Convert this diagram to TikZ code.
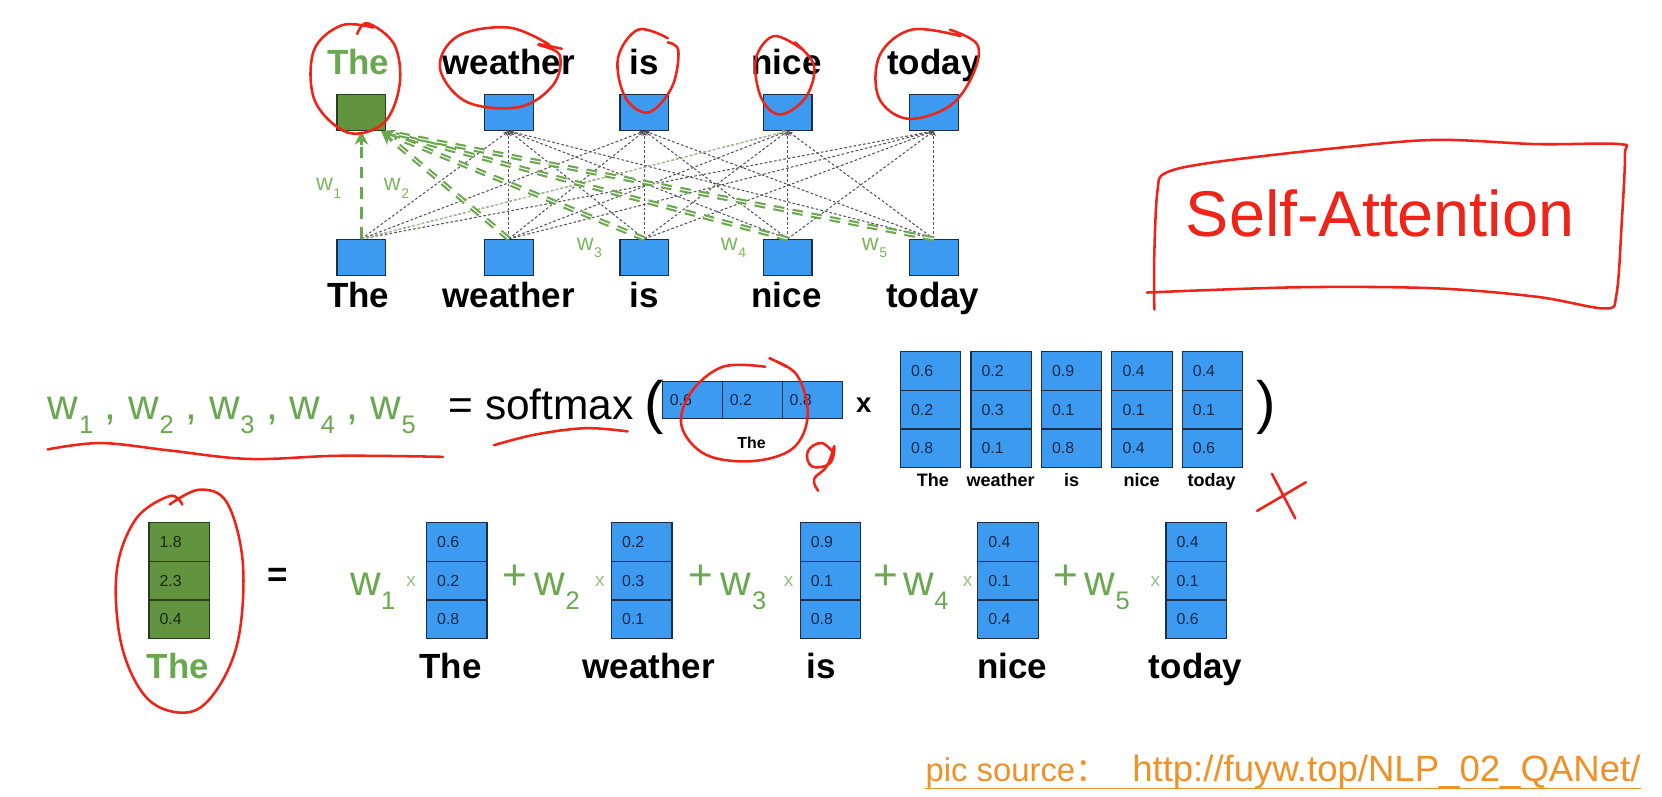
\documentclass[tikz,border=0pt]{standalone}
\usepackage{fontspec}
\setmainfont{Liberation Sans}
\newfontfamily\cjk{Noto Sans CJK SC}
\usetikzlibrary{arrows.meta,calc}
\definecolor{boxblue}{RGB}{60,155,240}
\definecolor{boxborder}{RGB}{30,45,70}
\definecolor{gboxfill}{RGB}{98,148,64}
\definecolor{gborder}{RGB}{40,60,30}
\definecolor{gtext}{RGB}{106,168,79}
\definecolor{wlight}{RGB}{125,182,98}
\definecolor{numtext}{RGB}{20,40,70}
\definecolor{gnum}{RGB}{25,40,20}
\definecolor{lgray}{RGB}{85,85,85}
\definecolor{lgreen}{RGB}{160,205,140}
\definecolor{timesc}{RGB}{150,190,135}
\definecolor{redc}{RGB}{240,35,25}
\definecolor{orangec}{RGB}{240,145,40}
\newcommand{\wsb}[1]{w\kern0.5pt\raisebox{-0.33em}{\scalebox{0.6}{#1}}}
\begin{document}
\begin{tikzpicture}[x=1pt,y=-1pt,
  tbox/.style={rectangle,draw=boxborder,fill=boxblue,line width=1.2pt,minimum width=46pt,minimum height=34pt,inner sep=0pt},
  gbox/.style={tbox,fill=gboxfill,draw=gborder},
  word/.style={font=\fontsize{33}{36}\selectfont\bfseries,inner sep=0pt,anchor=base},
  cell/.style={rectangle,draw=boxborder,fill=boxblue,line width=1.1pt,minimum width=57pt,minimum height=36.5pt,text width=37pt,inner xsep=10pt,inner ysep=0pt,align=left,font=\fontsize{15}{15}\selectfont,text=numtext},
  gcell/.style={cell,fill=gboxfill,draw=gborder,text=gnum},
  mlab/.style={font=\fontsize{17}{17}\selectfont\bfseries,inner sep=0pt,anchor=base},
  eqtext/.style={font=\fontsize{40}{44}\selectfont,inner sep=0pt,anchor=base west},
  wlab/.style={font=\fontsize{22}{22}\selectfont,text=wlight,inner sep=0pt,anchor=base west},
  times/.style={font=\fontsize{18}{18}\selectfont,text=timesc,inner sep=0pt},
  gline/.style={draw=lgray,line width=1pt,dash pattern=on 2.5pt off 2pt,-{Stealth[length=5pt,width=4pt]}},
  attn/.style={draw=gtext,line width=3.6pt,dash pattern=on 11pt off 8pt},
  attnd/.style={draw=gtext,line width=2pt,double=white,double distance=1pt,dash pattern=on 10pt off 8pt},
  attntip/.style={draw=gtext,line width=2pt,-{Stealth[length=13pt,width=13pt]}},
  redpen/.style={draw=redc,line width=2.4pt,line cap=round,line join=round},
]
\useasboundingbox (0,0) rectangle (1568,751);

% ---------- top graph ----------
\node[gbox] (t1) at (341,106) {};
\node[tbox] (t2) at (480,106) {};
\node[tbox] (t3) at (608,106) {};
\node[tbox] (t4) at (743,106) {};
\node[tbox] (t5) at (881,106) {};
\node[tbox] (b1) at (341,243) {};
\node[tbox] (b2) at (480,243) {};
\node[tbox] (b3) at (608,243) {};
\node[tbox] (b4) at (743,243) {};
\node[tbox] (b5) at (881,243) {};

\node[word,text=gtext] (tw1) at (338,70) {The};
\node[word] (tw2) at (480,70) {weather};
\node[word] (tw3) at (608,70) {is};
\node[word] (tw4) at (742,70) {nice};
\node[word] (tw5) at (881,70) {today};
\node[word] (bw1) at (338,290) {The};
\node[word] (bw2) at (480,290) {weather};
\node[word] (bw3) at (608,290) {is};
\node[word] (bw4) at (742,290) {nice};
\node[word] (bw5) at (880,290) {today};

\foreach \i in {2,...,5}
  \foreach \j in {1,...,5}
    \draw[gline] (b\j.north) -- (t\i.south);
\draw[gline,draw=lgreen] (b1.north) -- (t4.south);

\coordinate (tin) at ([xshift=-5pt]t1.south east);
\draw[attn] (b1.north) -- ($(t1.south)!12pt!(b1.north)$);
\draw[attntip] ($(t1.south)!13pt!(b1.north)$) -- (t1.south);
\foreach \j in {2,...,5}{
  \draw[attnd] (b\j.north) -- ($(tin)!14pt!(b\j.north)$);
}
\draw[attntip] ($(tin)!14pt!(b2.north)$) -- (tin);
\draw[attntip] ($(tin)!14pt!(b3.north)$) -- (tin);

\node[wlab] (w1l) at (298,180) {\wsb{1}};
\node[wlab] (w2l) at (362,180) {\wsb{2}};
\node[wlab] (w3l) at (544,236) {\wsb{3}};
\node[wlab] (w4l) at (680,236) {\wsb{4}};
\node[wlab] (w5l) at (813,236) {\wsb{5}};

% ---------- softmax row ----------
\node[eqtext,text=gtext] (ws) at (45,396) {\wsb{1} , \wsb{2} , \wsb{3} , \wsb{4} , \wsb{5}};
\node[eqtext] (sm) at (423,396) {= softmax};
\node[font=\fontsize{55}{55}\selectfont,inner sep=0pt] (lp) at (617,384) {(};
\node[cell,minimum height=35pt,inner xsep=7pt,text width=43pt] (r1) at (653.5,377.5) {0.6};
\node[cell,minimum height=35pt,inner xsep=7pt,text width=43pt] (r2) at (710,377.5) {0.2};
\node[cell,minimum height=35pt,inner xsep=7pt,text width=43pt] (r3) at (766.5,377.5) {0.8};
\node[mlab,font=\fontsize{15}{15}\selectfont\bfseries] (rl) at (709,423) {The};
\node[font=\fontsize{26}{26}\selectfont\bfseries,inner sep=0pt] (mx) at (815,382) {x};

\foreach \c/\x/\a/\b/\d/\lab/\lx in {1/878/0.6/0.2/0.8/The/880, 2/944.5/0.2/0.3/0.1/weather/944, 3/1011/0.9/0.1/0.8/is/1011, 4/1077.5/0.4/0.1/0.4/nice/1077, 5/1144/0.4/0.1/0.6/today/1143}{
  \node[cell] (m\c a) at (\x,350) {\a};
  \node[cell] (m\c b) at (\x,386.5) {\b};
  \node[cell] (m\c c) at (\x,423) {\d};
  \node[mlab] (m\c l) at (\lx,459) {\lab};
}
\node[font=\fontsize{55}{55}\selectfont,inner sep=0pt] (rp) at (1195,384) {)};

% ---------- weighted sum row ----------
\node[gcell] (ga) at (169,511.25) {1.8};
\node[gcell] (gb) at (169,547.75) {2.3};
\node[gcell] (gc) at (169,584.25) {0.4};
\node[word,text=gtext] (gl) at (168,640) {The};
\node[font=\fontsize{33}{33}\selectfont\bfseries,inner sep=0pt] (eq) at (262,545) {=};

\foreach \c/\x/\a/\b/\d/\lab/\lx in {1/431/0.6/0.2/0.8/The/425, 2/605.5/0.2/0.3/0.1/weather/612, 3/783.5/0.9/0.1/0.8/is/775, 4/951/0.4/0.1/0.4/nice/955, 5/1128.5/0.4/0.1/0.6/today/1128}{
  \node[cell] (v\c a) at (\x,511.25) {\a};
  \node[cell] (v\c b) at (\x,547.75) {\b};
  \node[cell] (v\c c) at (\x,584.25) {\d};
  \node[word] (v\c l) at (\lx,640) {\lab};
}

\node[eqtext,text=gtext] (c1w) at (330,562) {\wsb{1}};
\node[times] (c1x) at (388,549) {x};
\node[eqtext,text=gtext,anchor=center] (p2) at (486,545) {+};
\node[eqtext,text=gtext] (c2w) at (504,562) {\wsb{2}};
\node[times] (c2x) at (566,549) {x};
\node[eqtext,text=gtext,anchor=center] (p3) at (661,545) {+};
\node[eqtext,text=gtext] (c3w) at (680,562) {\wsb{3}};
\node[times] (c3x) at (744,549) {x};
\node[eqtext,text=gtext,anchor=center] (p4) at (836,545) {+};
\node[eqtext,text=gtext] (c4w) at (852,562) {\wsb{4}};
\node[times] (c4x) at (913,549) {x};
\node[eqtext,text=gtext,anchor=center] (p5) at (1006,545) {+};
\node[eqtext,text=gtext] (c5w) at (1023,562) {\wsb{5}};
\node[times] (c5x) at (1090,549) {x};

% ---------- Self-Attention ----------
\node[font=\fontsize{61}{61}\selectfont,text=redc,inner sep=0pt] (sa) at (1302,201) {Self-Attention};
\draw[redpen] plot[smooth,tension=0.55] coordinates {(1089,292) (1089,240) (1092,180) (1100,163) (1146,153) (1258,140) (1354,132) (1450,136) (1528,136) (1533,146) (1530,210) (1525,278) (1514,291) (1450,280) (1354,272) (1226,271) (1082,276)};

% ---------- source ----------
\node[font=\fontsize{31}{31}\selectfont,text=orangec,inner sep=0pt,anchor=base west] (src) at (873,737) {pic source{\cjk ：}};
\node[font=\fontsize{34.5}{34.5}\selectfont,text=orangec,inner sep=0pt,anchor=base west] (url) at (1068,737) {http://fuyw.top/NLP\_02\_QANet/};
\draw[orangec,line width=1.6pt] ([yshift=-7pt]src.base west) -- ([yshift=-7pt]url.base east);

% ---------- red annotations ----------
\draw[redpen] plot[smooth,tension=0.6] coordinates {(352,26) (322,24) (296,48) (297,95) (328,125) (362,116) (377,80) (372,42) (347,22) (337,32)};
\draw[redpen] plot[smooth,tension=0.6] coordinates {(518,42) (480,26) (432,34) (415,64) (440,96) (490,101) (522,80) (528,52) (508,42) (530,46)};
\draw[redpen] plot[smooth,tension=0.6] coordinates {(630,36) (602,28) (583,55) (590,92) (612,106) (634,82) (640,48) (630,40)};
\draw[redpen] plot[smooth,tension=0.6] coordinates {(756,46) (730,34) (713,56) (718,92) (736,108) (760,92) (768,62) (750,40)};
\draw[redpen] plot[smooth,tension=0.6] coordinates {(906,34) (860,28) (830,52) (829,92) (856,112) (896,100) (918,70) (922,42) (896,28)};
\draw[redpen] plot[smooth,tension=0.6] coordinates {(160,476) (188,462) (214,474) (229,530) (225,602) (205,650) (178,672) (140,660) (115,610) (110,540) (128,490) (160,468) (172,476)};
\draw[redpen] plot[smooth,tension=0.6] coordinates {(722,346) (682,346) (652,370) (643,402) (666,429) (710,435) (748,423) (762,392) (752,354) (726,338) (742,346)};
\draw[redpen] plot[smooth,tension=0.7] coordinates {(787,428) (775,418) (762,426) (766,440) (783,437) (787,421) (780,440) (768,452) (772,463)};
\draw[redpen] (1200,447) -- (1222,489);
\draw[redpen] (1186,482) -- (1232,455);
\draw[redpen] plot[smooth,tension=0.6] coordinates {(45,424) (95,418) (160,425) (235,433) (320,430) (418,431)};
\draw[redpen] plot[smooth,tension=0.6] coordinates {(466,420) (505,410) (552,404) (592,407)};
\end{tikzpicture}
\end{document}
